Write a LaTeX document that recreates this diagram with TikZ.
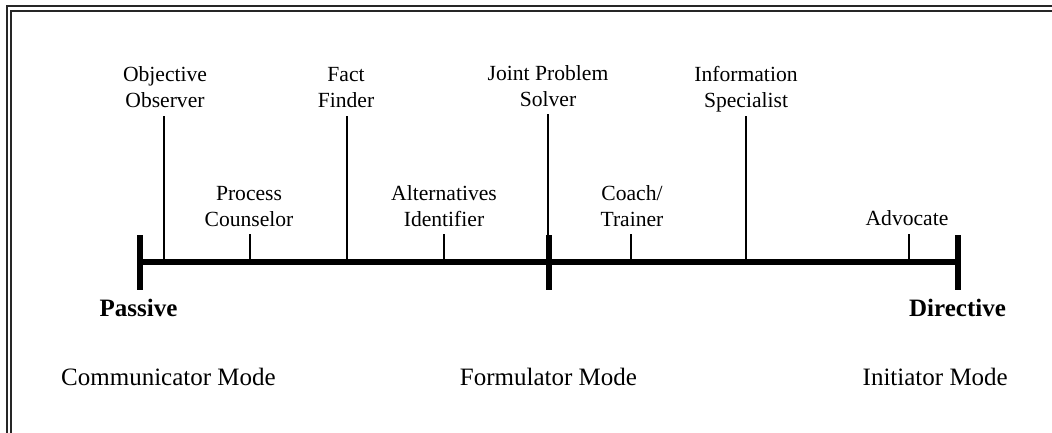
\documentclass[tikz,border=0pt]{standalone}
\usepackage{fontspec}
\setmainfont{Liberation Serif}
\begin{document}
\begin{tikzpicture}[x=1pt,y=-1pt,
  rolelabel/.style={font=\fontsize{21.6}{26}\selectfont, align=center,
    inner sep=0pt, text depth=0pt, anchor=south},
  polelabel/.style={font=\fontsize{25}{30}\selectfont\bfseries,
    inner sep=0pt, text depth=0pt, anchor=base},
  modelabel/.style={font=\fontsize{25}{30}\selectfont,
    inner sep=0pt, text depth=0pt},
  tick/.style={line width=1.3pt},
  axisline/.style={line width=6pt},
  endbar/.style={line width=6pt},
  frameline/.style={line width=1.4pt, draw=black!85}]
\useasboundingbox (0,0) rectangle (1052,432);

% double frame, running past the right and bottom edges
\begin{scope}
  \clip (0,0) rectangle (1052,432);
  \draw[frameline] (7,6) rectangle (1070,450);
  \draw[frameline] (11,11) rectangle (1070,450);
\end{scope}

% axis end points and the middle divider
\coordinate (L) at (139.5,262);
\coordinate (M) at (549,262);
\coordinate (R) at (958,262);

\draw[axisline] (L) -- (R);
\draw[endbar] (139.5,235) -- (139.5,290);
\draw[endbar] (549,235) -- (549,290);
\draw[endbar] (958,235) -- (958,290);

% long ticks (upper row of roles)
\coordinate (oo) at (164,116);
\coordinate (ff) at (347,116);
\coordinate (jp) at (548,114);
\coordinate (is) at (746,116);
% short ticks (lower row of roles)
\coordinate (pc) at (250,234);
\coordinate (ai) at (444,234);
\coordinate (ct) at (631,234);
\coordinate (ad) at (909,234);

\foreach \c/\x in {oo/164,ff/347,jp/548,is/746,pc/250,ai/444,ct/631,ad/909}
  \draw[tick] (\c) -- (\x,262);

\node[rolelabel] (ooL) at (165,108) {Objective\\Observer};
\node[rolelabel] (ffL) at (346,108) {Fact\\Finder};
\node[rolelabel] (jpL) at (548,107) {Joint Problem\\Solver};
\node[rolelabel] (isL) at (746,108) {Information\\Specialist};
\node[rolelabel] (pcL) at (249,227) {Process\\Counselor};
\node[rolelabel] (aiL) at (444,227) {Alternatives\\Identifier};
\node[rolelabel] (ctL) at (632,227) {Coach/\\Trainer};
\node[rolelabel] (adL) at (907,226) {Advocate};

\node[polelabel] (pas) at (138.5,316) {Passive};
\node[polelabel] (dir) at (957.5,316) {Directive};

\node[modelabel, anchor=base west] (com) at (61,385) {Communicator Mode};
\node[modelabel, anchor=base] (for) at (548.5,385) {Formulator Mode};
\node[modelabel, anchor=base east] (ini) at (1008,385) {Initiator Mode};
\end{tikzpicture}
\end{document}
